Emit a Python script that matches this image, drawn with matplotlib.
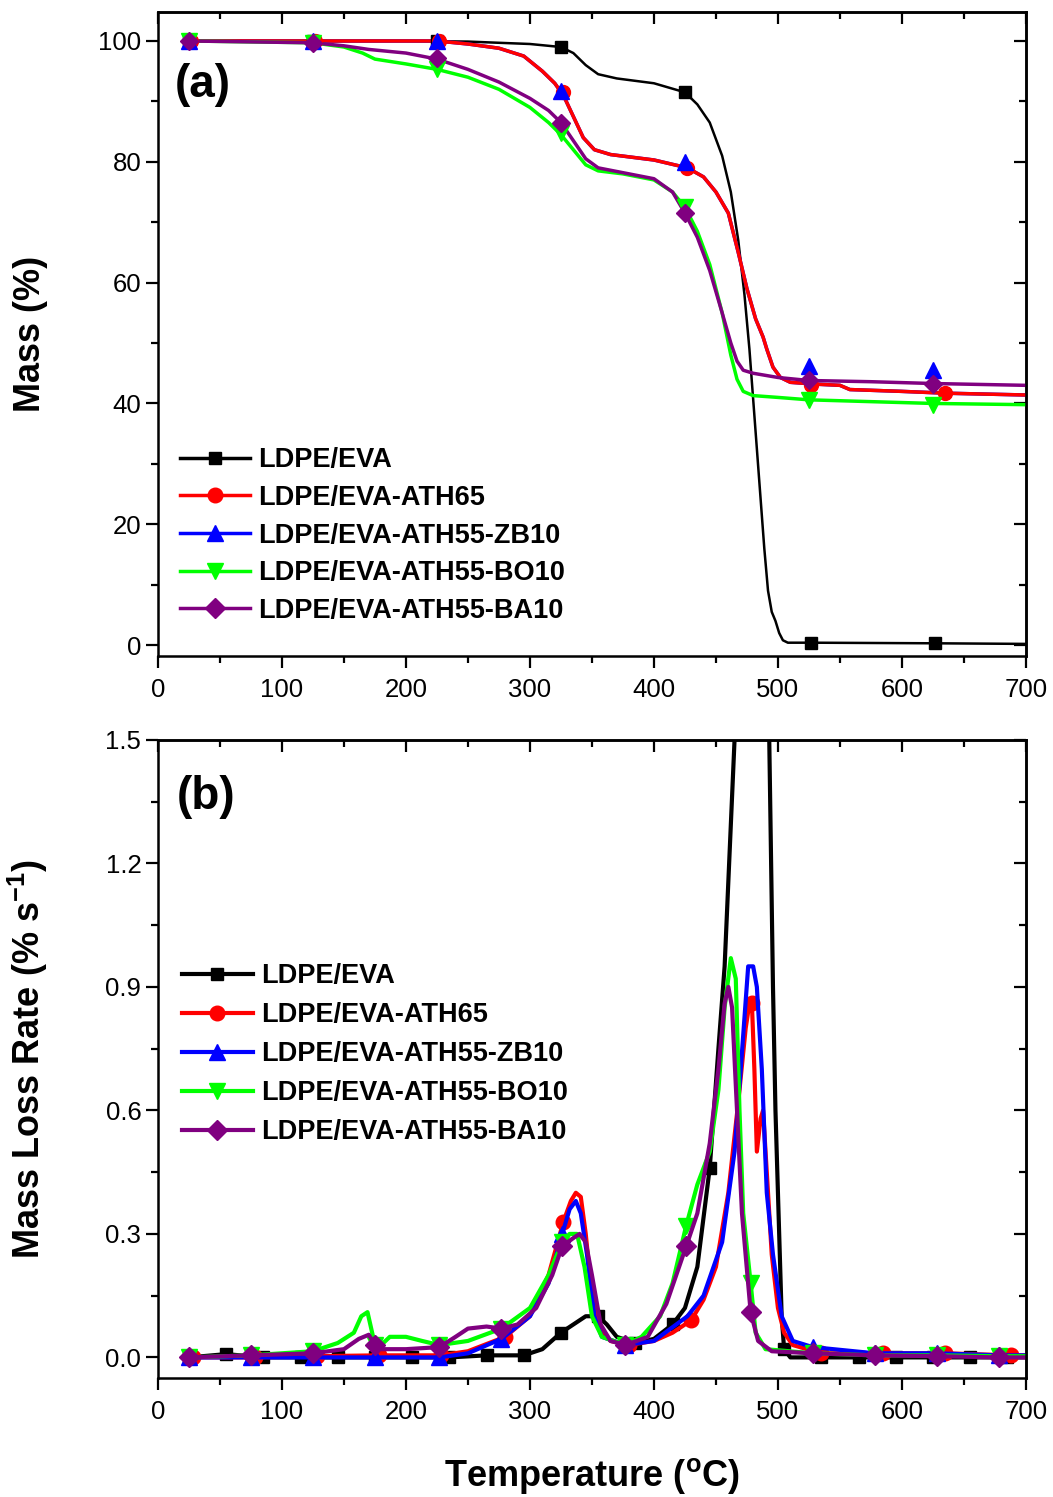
import numpy as np
import matplotlib
matplotlib.use("Agg")
import matplotlib.pyplot as plt
from matplotlib.ticker import MultipleLocator
from matplotlib.lines import Line2D

plt.rcParams['font.family'] = ['Liberation Sans', 'DejaVu Sans']
plt.rcParams['mathtext.default'] = 'regular'

labels = ["LDPE/EVA", "LDPE/EVA-ATH65", "LDPE/EVA-ATH55-ZB10",
          "LDPE/EVA-ATH55-BO10", "LDPE/EVA-ATH55-BA10"]
colors = ["#000000", "#ff0000", "#0000ff", "#00ff00", "#800080"]
markers = ["s", "o", "^", "v", "D"]

# ---- (a) mass curves ----
tga_black_T = [25, 100, 200, 250, 300, 325, 335, 345, 355, 370, 400, 425, 435, 445, 455, 462,
               468, 473, 477, 481, 485, 489, 492, 495, 498, 501, 504, 508, 527, 627, 700]
tga_black_m = [100, 100, 100, 99.9, 99.5, 99, 98, 96, 94.5, 93.8, 93, 91.5, 89.5, 86.5, 81, 75,
               67, 58, 49, 38, 27, 16, 9, 5.5, 4, 2, 0.8, 0.4, 0.4, 0.3, 0.2]
tga_red_T = [25, 225, 250, 275, 295, 310, 320, 327, 335, 343, 352, 365, 400, 427, 440, 450, 460,
             468, 475, 482, 488, 491, 496, 502, 510, 530, 550, 558, 600, 635, 700]
tga_red_m = [100, 100, 99.5, 98.8, 97.5, 95, 93, 91, 87.5, 84, 82, 81.2, 80.3, 79, 77.5, 75, 71.5,
             65, 59, 54, 51, 49, 46, 44.3, 43.5, 43.2, 43, 42.3, 42, 41.7, 41.4]
tga_blue_T = [25, 225, 250, 275, 295, 310, 320, 327, 335, 343, 352, 365, 400, 427, 440, 450, 460,
              468, 475, 482, 488, 491, 496, 502, 510, 530, 550, 558, 600, 635, 700]
tga_blue_m = [100, 100, 99.5, 98.8, 97.5, 95, 93, 91, 87.5, 84, 82, 81.2, 80.3, 79, 77.5, 75, 71.5,
              65, 59, 54, 51, 49, 46, 44.3, 43.5, 43.2, 43, 42.3, 42, 41.7, 41.4]
tga_green_T = [25, 125, 150, 165, 175, 200, 225, 250, 275, 300, 315, 325, 335, 345, 355, 375, 400,
               415, 425, 435, 445, 455, 462, 467, 472, 480, 500, 525, 575, 625, 700]
tga_green_m = [100, 99.7, 99, 98, 97, 96.2, 95.3, 94, 92, 89, 86.5, 84.5, 82, 79.5, 78.5, 78, 77,
               75, 72.5, 68.5, 63, 55, 48, 44, 42, 41.3, 41, 40.6, 40.3, 40, 39.8]
tga_purple_T = [25, 125, 150, 170, 200, 225, 250, 275, 300, 315, 325, 335, 345, 355, 375, 400,
                415, 425, 435, 445, 455, 462, 467, 472, 480, 500, 525, 575, 625, 700]
tga_purple_m = [100, 99.7, 99.2, 98.6, 98, 97, 95.3, 93.2, 90.5, 88.5, 86.5, 83.5, 80.5, 79, 78.2,
                77.2, 75, 71.5, 67.5, 62, 55, 50, 47, 45.5, 45, 44.3, 43.8, 43.6, 43.3, 43]

mk_black_T = [25, 125, 225, 325, 425, 527, 627]
mk_black_m = [100, 100, 100, 99, 91.5, 0.4, 0.3]
mk_red_T = [27, 127, 227, 327, 427, 527, 635]
mk_red_m = [100, 100, 100, 91.5, 79, 43, 41.7]
mk_blue_T = [25, 125, 225, 325, 425, 525, 625]
mk_blue_m = [100, 100, 100, 91.8, 80, 46.2, 45.5]
mk_green_T = [25, 125, 225, 325, 425, 525, 625]
mk_green_m = [100, 99.7, 95.3, 84.8, 72.5, 40.5, 39.8]
mk_purple_T = [25, 125, 225, 325, 425, 525, 625]
mk_purple_m = [100, 99.6, 97.2, 86.5, 71.5, 43.8, 43.3]

# ---- (b) mass loss rate ----
dtg_black_T = [25, 55, 85, 115, 145, 175, 205, 235, 265, 295, 310, 325, 335, 345, 355, 362, 370,
               385, 400, 415, 425, 435, 445, 452, 457, 465, 472, 475, 480, 488, 493, 496, 498, 500,
               503, 505, 510, 535, 565, 595, 625, 655, 685, 700]
dtg_black_v = [0, 0.008, 0, 0, 0, 0, 0, 0, 0.005, 0.005, 0.02, 0.06, 0.08, 0.1, 0.1, 0.08, 0.05,
               0.035, 0.045, 0.08, 0.12, 0.22, 0.46, 0.75, 0.95, 1.5, 2.2, 2.4, 2.6, 2.2, 1.5, 0.9,
               0.6, 0.4, 0.1, 0.02, 0, 0, 0, 0, 0, 0, 0, 0]
dtg_red_T = [25, 28, 78, 128, 178, 228, 250, 280, 300, 315, 327, 333, 337, 341, 345, 350, 356,
             365, 380, 400, 415, 430, 440, 450, 460, 468, 474, 477, 479, 481, 483, 486, 488, 491,
             495, 500, 505, 512, 535, 585, 635, 688, 700]
dtg_red_v = [0, 0, 0, 0.003, 0.005, 0.005, 0.015, 0.05, 0.1, 0.2, 0.33, 0.38, 0.4, 0.39, 0.3,
             0.15, 0.07, 0.04, 0.03, 0.04, 0.06, 0.09, 0.14, 0.22, 0.4, 0.62, 0.8, 0.86, 0.86, 0.7,
             0.5, 0.58, 0.6, 0.45, 0.25, 0.12, 0.06, 0.03, 0.01, 0.01, 0.01, 0.005, 0.005]
dtg_blue_T = [25, 75, 125, 175, 227, 250, 277, 300, 315, 326, 332, 337, 341, 346, 352, 358, 377,
              400, 427, 440, 455, 465, 470, 476, 480, 483, 487, 491, 496, 503, 512, 528, 578, 628,
              678, 700]
dtg_blue_v = [0, 0, 0, 0, 0, 0.01, 0.045, 0.1, 0.18, 0.3, 0.36, 0.38, 0.35, 0.25, 0.1, 0.05, 0.03,
              0.04, 0.1, 0.15, 0.28, 0.5, 0.7, 0.95, 0.95, 0.9, 0.7, 0.4, 0.25, 0.1, 0.04, 0.025,
              0.01, 0.01, 0.005, 0.005]
dtg_green_T = [25, 75, 100, 125, 145, 158, 164, 169, 172, 175, 180, 187, 200, 213, 227, 250, 277,
               300, 315, 326, 332, 338, 344, 350, 358, 377, 390, 405, 415, 426, 435, 445, 452, 457,
               462, 466, 469, 472, 478, 482, 490, 528, 578, 628, 678, 700]
dtg_green_v = [0, 0.005, 0.01, 0.015, 0.035, 0.06, 0.1, 0.11, 0.07, 0.03, 0.03, 0.05, 0.05, 0.04,
               0.03, 0.04, 0.07, 0.12, 0.2, 0.28, 0.3, 0.3, 0.22, 0.1, 0.05, 0.03, 0.05, 0.1, 0.18,
               0.32, 0.42, 0.5, 0.65, 0.85, 0.97, 0.92, 0.6, 0.35, 0.18, 0.06, 0.02, 0.01, 0.005,
               0.005, 0.003, 0.003]
dtg_purple_T = [25, 75, 125, 150, 162, 170, 175, 180, 200, 227, 240, 250, 265, 277, 290, 305, 318,
                326, 335, 340, 345, 350, 357, 365, 377, 395, 410, 426, 435, 445, 452, 457, 460, 463,
                467, 471, 478, 484, 495, 528, 578, 628, 678, 700]
dtg_purple_v = [0, 0.005, 0.01, 0.02, 0.045, 0.055, 0.03, 0.02, 0.02, 0.025, 0.05, 0.07, 0.075,
                0.07, 0.08, 0.12, 0.2, 0.27, 0.29, 0.3, 0.28, 0.2, 0.08, 0.04, 0.03, 0.05, 0.13,
                0.27, 0.35, 0.52, 0.7, 0.86, 0.9, 0.85, 0.6, 0.35, 0.11, 0.04, 0.015, 0.01, 0.005,
                0.003, 0, 0]

mk_black_b = [25, 55, 85, 115, 145, 175, 205, 235, 265, 295, 325, 355, 385, 415, 445, 475, 505,
              535, 565, 595, 625, 655, 685]
mk_red_b = [28, 78, 128, 178, 228, 280, 327, 380, 430, 479, 535, 585, 635, 688]
mk_col_b = [25, 75, 125, 175, 227, 277, 326, 377, 426, 478, 528, 578, 628, 678]

fig = plt.figure(figsize=(10.53, 14.97), dpi=100)
ax1 = fig.add_axes([0.150, 0.5618, 0.8243, 0.4302])
ax2 = fig.add_axes([0.150, 0.0795, 0.8243, 0.4262])


def style(ax, ymaj, ymin):
    ax.xaxis.set_major_locator(MultipleLocator(100))
    ax.xaxis.set_minor_locator(MultipleLocator(50))
    ax.yaxis.set_major_locator(MultipleLocator(ymaj))
    ax.yaxis.set_minor_locator(MultipleLocator(ymin))
    ax.tick_params(which='both', direction='out', width=1.6, top=False, right=False,
                   labelsize=18.5)
    ax.tick_params(axis='x', which='both', pad=7)
    ax.tick_params(which='major', length=8.5)
    ax.tick_params(which='minor', length=5)
    for s in ax.spines.values():
        s.set_linewidth(1.8)
    sx = ax.secondary_xaxis('top')
    sx.xaxis.set_major_locator(MultipleLocator(100))
    sx.xaxis.set_minor_locator(MultipleLocator(50))
    sx.tick_params(which='both', direction='in', width=1.6, labeltop=False)
    sx.tick_params(which='major', length=8.5)
    sx.tick_params(which='minor', length=5)
    sx.spines['top'].set_linewidth(1.8)
    sy = ax.secondary_yaxis('right')
    sy.yaxis.set_major_locator(MultipleLocator(ymaj))
    sy.yaxis.set_minor_locator(MultipleLocator(ymin))
    sy.tick_params(which='both', direction='in', width=1.6, labelright=False)
    sy.tick_params(which='major', length=8.5)
    sy.tick_params(which='minor', length=5)
    sy.spines['right'].set_linewidth(1.8)


# panel (a)
tga = [(tga_black_T, tga_black_m, 1.8), (tga_blue_T, tga_blue_m, 2.5),
       (tga_red_T, tga_red_m, 2.5), (tga_green_T, tga_green_m, 2.5),
       (tga_purple_T, tga_purple_m, 2.5)]
tga_colors = [colors[0], colors[2], colors[1], colors[3], colors[4]]
for (t, m, lw), c in zip(tga, tga_colors):
    ax1.plot(t, m, color=c, lw=lw)
mks = [(mk_black_T, mk_black_m), (mk_red_T, mk_red_m), (mk_blue_T, mk_blue_m),
       (mk_green_T, mk_green_m), (mk_purple_T, mk_purple_m)]
msz = [8.5, 10, 11, 11, 9.5]
for (t, m), c, mk, s in zip(mks, colors, markers, msz):
    ax1.plot(t, m, ls='none', marker=mk, color=c, ms=s, zorder=3)

ax1.set_xlim(0, 700)
ax1.set_ylim(-1.8, 104.8)
style(ax1, 20, 10)
ax1.set_ylabel("Mass (%)", fontsize=26, fontweight='bold')
ax1.yaxis.set_label_coords(-0.127, 0.5)
ax1.text(0.052, 0.887, "(a)", transform=ax1.transAxes, fontsize=33, fontweight='bold',
         ha='center', va='center')

# panel (b)
dtg = [(dtg_black_T, dtg_black_v, mk_black_b), (dtg_red_T, dtg_red_v, mk_red_b),
       (dtg_blue_T, dtg_blue_v, mk_col_b), (dtg_green_T, dtg_green_v, mk_col_b),
       (dtg_purple_T, dtg_purple_v, mk_col_b)]
msz_b = [9, 10.5, 11, 11, 10]
for (t, v, mt), c, mk, s in zip(dtg, colors, markers, msz_b):
    t = np.array(t)
    idx = list(np.where(np.isin(t, mt))[0])
    ax2.plot(t, v, color=c, lw=3, marker=mk, ms=s, markevery=idx)

ax2.set_xlim(0, 700)
ax2.set_ylim(-0.05, 1.5)
style(ax2, 0.3, 0.15)
ax2.yaxis.set_major_formatter(matplotlib.ticker.FormatStrFormatter('%.1f'))
ax2.set_ylabel("Mass Loss Rate (% s$^{-1}$)", fontsize=26, fontweight='bold')
ax2.yaxis.set_label_coords(-0.124, 0.5)
ax2.set_xlabel("Temperature ($^{o}$C)", fontsize=26, fontweight='bold')
ax2.xaxis.set_label_coords(0.5, -0.122)
ax2.text(0.056, 0.911, "(b)", transform=ax2.transAxes, fontsize=33, fontweight='bold',
         ha='center', va='center')

# legends
for ax, lw, anchor, sp in [(ax1, 2.5, (0.025, 0.324), 0.43), (ax2, 3, (0.028, 0.650), 0.48)]:
    handles = [Line2D([], [], color=c, lw=lw, marker=mk, ms=s)
               for c, mk, s in zip(colors, markers, msz_b)]
    ax.legend(handles, labels, loc='upper left', bbox_to_anchor=anchor, frameon=False,
              borderpad=0, borderaxespad=0, handlelength=2.6, handletextpad=0.3,
              labelspacing=sp, numpoints=1, prop={'weight': 'bold', 'size': 19.5})

fig.savefig("out.png", dpi=100)
